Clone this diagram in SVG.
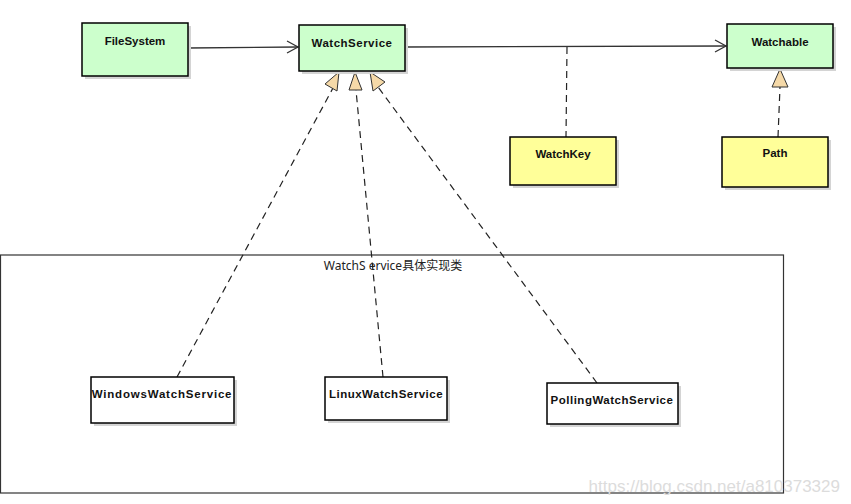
<svg xmlns="http://www.w3.org/2000/svg" width="851" height="504" viewBox="0 0 851 504">
<style>
.box{stroke:#000;stroke-width:1.5}
.sh{fill:#d4d4d4}
.g{fill:#ccffcc}
.y{fill:#ffff99}
.w{fill:#fff}
.lbl{font-family:"Liberation Sans",Arial,sans-serif;font-size:11.5px;font-weight:bold;fill:#111;text-anchor:middle}
.ln{stroke:#333;stroke-width:1.3;fill:none}
.dash{stroke:#222;stroke-width:1.2;fill:none;stroke-dasharray:7,5}
.tri{fill:#f5d9a8;stroke:#333;stroke-width:1}
</style>
<rect x="0" y="0" width="851" height="504" fill="#fff"/>
<g id="container">
<rect x="0.5" y="255" width="783" height="238" fill="#fff" stroke="#333" stroke-width="1.2"/>
<text x="393" y="270" font-family="'Noto Sans','Noto Sans CJK SC',sans-serif" font-size="12" fill="#222" text-anchor="middle">WatchS ervice具体实现类</text>
</g>
<g id="connectors">
<line class="ln" x1="188" y1="48" x2="298" y2="47"/>
<polyline class="ln" points="287,41 298,47 287,53"/>
<line class="ln" x1="405" y1="47" x2="726" y2="46"/>
<polyline class="ln" points="715,40 726,46 715,52"/>
<line class="dash" x1="567" y1="47" x2="566" y2="137"/>
<line class="dash" x1="778" y1="137" x2="780" y2="87"/>
<polygon class="tri" points="780,69 772,87 788,87"/>
<line class="dash" x1="177" y1="377" x2="333" y2="88"/>
<polygon class="tri" points="339,72 325,84 337,91"/>
<line class="dash" x1="383" y1="377" x2="356" y2="90"/>
<polygon class="tri" points="355,72 349,90 362,90"/>
<line class="dash" x1="597" y1="383" x2="378" y2="87"/>
<polygon class="tri" points="370,72 373,91 385,82"/>
</g>
<g id="FileSystem">
<rect class="sh" x="85" y="26" width="106" height="53"/>
<rect class="box g" x="82" y="23" width="106" height="53"/>
<text class="lbl" x="135" y="45">FileSystem</text>
</g>
<g id="WatchService">
<rect class="sh" x="302" y="28" width="106" height="46"/>
<rect class="box g" x="299" y="25" width="106" height="46"/>
<text class="lbl" x="352" y="47" letter-spacing="0.5">WatchService</text>
</g>
<g id="Watchable">
<rect class="sh" x="730" y="27" width="106" height="44"/>
<rect class="box g" x="727" y="24" width="106" height="44"/>
<text class="lbl" x="780" y="46">Watchable</text>
</g>
<g id="WatchKey">
<rect class="sh" x="513" y="140" width="106" height="48"/>
<rect class="box y" x="510" y="137" width="106" height="48"/>
<text class="lbl" x="563" y="158">WatchKey</text>
</g>
<g id="Path">
<rect class="sh" x="725" y="140" width="106" height="50"/>
<rect class="box y" x="722" y="137" width="106" height="50"/>
<text class="lbl" x="775" y="157">Path</text>
</g>
<g id="WindowsWatchService">
<rect class="sh" x="94" y="380" width="143" height="46"/>
<rect class="box w" x="91" y="377" width="143" height="46"/>
<text class="lbl" x="162" y="398" letter-spacing="0.8">WindowsWatchService</text>
</g>
<g id="LinuxWatchService">
<rect class="sh" x="328" y="380" width="122" height="43"/>
<rect class="box w" x="325" y="377" width="122" height="43"/>
<text class="lbl" x="386" y="398" letter-spacing="0.5">LinuxWatchService</text>
</g>
<g id="PollingWatchService">
<rect class="sh" x="550" y="386" width="131" height="41"/>
<rect class="box w" x="547" y="383" width="131" height="41"/>
<text class="lbl" x="612" y="404" letter-spacing="0.5">PollingWatchService</text>
</g>
<text x="840" y="492" font-family="'Liberation Sans',Arial,sans-serif" font-size="17" fill="#dcdcdc" text-anchor="end">https://blog.csdn.net/a810373329</text>
</svg>
